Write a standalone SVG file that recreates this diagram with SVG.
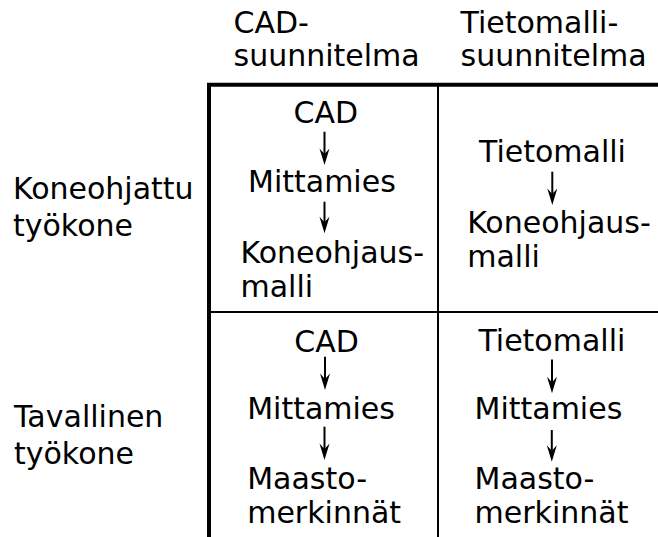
<svg xmlns="http://www.w3.org/2000/svg" width="658" height="537" viewBox="0 0 658 537">
<style>
text{font-family:"DejaVu Sans","Liberation Sans",sans-serif;font-size:30px;fill:#000}
.thick{stroke:#000;stroke-width:4;fill:none}
.thin{stroke:#000;stroke-width:2;fill:none}
.arr{stroke:#000;stroke-width:2;fill:none;marker-end:url(#ah)}
</style>
<defs>
<marker id="ah" markerUnits="userSpaceOnUse" viewBox="-7 -6 19 12" markerWidth="19" markerHeight="12" refX="0" refY="0" orient="auto" overflow="visible">
<path d="M11,0 L-5.5,-5 L0,0 L-5.5,5 Z" fill="#000"/>
</marker>
</defs>
<rect width="658" height="537" fill="#fff"/>
<g id="grid">
<line class="thick" x1="207" y1="84.7" x2="658" y2="84.7"/>
<line class="thick" x1="209" y1="83" x2="209" y2="537"/>
<line class="thin" x1="438" y1="85" x2="438" y2="537"/>
<line class="thin" x1="209" y1="312" x2="658" y2="312"/>
</g>
<g id="header-cad"><text x="233.5" y="32.5">CAD-</text><text x="233.5" y="66">suunnitelma</text></g>
<g id="header-tietomalli"><text x="460.5" y="32.5">Tietomalli-</text><text x="460.5" y="66">suunnitelma</text></g>
<g id="row-koneohjattu"><text x="13" y="199">Koneohjattu</text><text x="13" y="236">työkone</text></g>
<g id="row-tavallinen"><text x="14" y="426.7">Tavallinen</text><text x="14" y="464">työkone</text></g>
<g id="tl-cad"><text x="293.5" y="123.3">CAD</text></g>
<g id="tl-mittamies"><text x="248" y="191.7">Mittamies</text></g>
<g id="tl-koneohjausmalli"><text x="240.5" y="263">Koneohjaus-</text><text x="240.5" y="296.5">malli</text></g>
<g id="tr-tietomalli"><text x="479" y="161.7">Tietomalli</text></g>
<g id="tr-koneohjausmalli"><text x="467.2" y="233">Koneohjaus-</text><text x="467.2" y="266.7">malli</text></g>
<g id="bl-cad"><text x="294.3" y="351.7">CAD</text></g>
<g id="bl-mittamies"><text x="247.2" y="419.3">Mittamies</text></g>
<g id="bl-maastomerkinnat"><text x="247.2" y="489">Maasto-</text><text x="247.2" y="522.7">merkinnät</text></g>
<g id="br-tietomalli"><text x="478.4" y="350.7">Tietomalli</text></g>
<g id="br-mittamies"><text x="474.5" y="419.3">Mittamies</text></g>
<g id="br-maastomerkinnat"><text x="474.5" y="489">Maasto-</text><text x="474.5" y="522.7">merkinnät</text></g>
<g id="connectors">
<line class="arr" x1="324.5" y1="131.7" x2="324.5" y2="154"/>
<line class="arr" x1="324.5" y1="201.7" x2="324.5" y2="222.3"/>
<line class="arr" x1="552.3" y1="171.7" x2="552.3" y2="194"/>
<line class="arr" x1="325" y1="356.7" x2="325" y2="379"/>
<line class="arr" x1="324.5" y1="426.7" x2="324.5" y2="449"/>
<line class="arr" x1="552" y1="359.5" x2="552" y2="382.3"/>
<line class="arr" x1="551.8" y1="430" x2="551.8" y2="450.7"/>
</g>
</svg>
